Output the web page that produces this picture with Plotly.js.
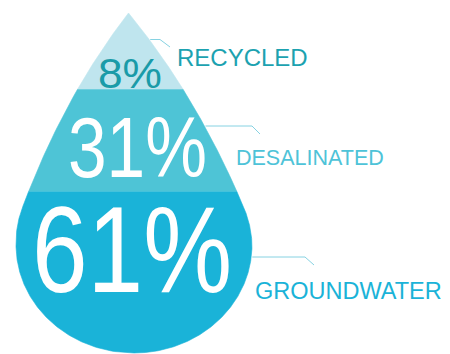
<!DOCTYPE html>
<html><head><meta charset="utf-8">
<script src="https://cdn.plot.ly/plotly-3.0.1.min.js"></script>
<style>html,body{margin:0;padding:0;background:#fff}#chart{width:450px;height:354px}</style>
</head><body><div id="chart"></div>
<script>
// ---- data ----
const categories = ['RECYCLED', 'DESALINATED', 'GROUNDWATER'];
const values = [8, 31, 61];

// ---- styles ----
const bandColors = ['#BFE5EE', '#4EC4D6', '#1AB3D8'];
const valueColors = ['#1A9BA8', '#FFFFFF', '#FFFFFF'];
const labelColors = ['#1CA2B0', '#4EC3D8', '#1AB3D8'];
const leaderColor = '#86D2E2';

// ---- drop geometry (layout, in plot pixels) ----
const G = {tipX: 128.5, tipY: 13, cx: 134, cy: 245, rx: 118, ry: 108, phi: 70 * Math.PI / 180, tipSlope: 0.8};
const valueText = {x: [130, 137.5, 132], y: [72.5, 146, 249], size: [43, 86, 123], width: [64, 139, 200]};
const labelText = {x: [175, 234, 253], y: [57, 158, 291], size: [24, 21.5, 23.5]};
const leaders = [
  {y: 39.5, xh: 160, x2: 170, y2: 47},
  {y: 126, xh: 252, x2: 260, y2: 134},
  {y: 257, xh: 305, x2: 314, y2: 265}
];
const FONT = 'Liberation Sans, Arial, Helvetica, sans-serif';

function buildOutline() {
  const {tipY, cy, rx, ry, phi, tipSlope} = G;
  const P2 = [rx * Math.sin(phi), cy - ry * Math.cos(phi)];
  const s2 = (rx * Math.cos(phi)) / (ry * Math.sin(phi));
  const c1y = (P2[0] - s2 * P2[1] + tipSlope * tipY) / (tipSlope - s2);
  const P1 = [tipSlope * (c1y - tipY), c1y];
  const P0 = [0, tipY];
  const pts = [];
  for (let i = 0; i <= 300; i++) {
    const t = i / 300, a = (1 - t) * (1 - t), b = 2 * t * (1 - t), c = t * t;
    pts.push([a * P0[1] + b * P1[1] + c * P2[1], a * P0[0] + b * P1[0] + c * P2[0]]);
  }
  for (let i = 1; i <= 300; i++) {
    const th = phi + (Math.PI - phi) * i / 300;
    pts.push([cy - ry * Math.cos(th), rx * Math.sin(th)]);
  }
  return pts;
}
const OUT = buildOutline();
function hw(y) {
  if (y <= OUT[0][0]) return 0;
  for (let i = 1; i < OUT.length; i++) {
    if (OUT[i][0] >= y) {
      const [y0, x0] = OUT[i - 1], [y1, x1] = OUT[i];
      return y1 === y0 ? x1 : x0 + (x1 - x0) * (y - y0) / (y1 - y0);
    }
  }
  return 0;
}
function axisX(y) {
  const f = Math.min(1, Math.max(0, (y - G.tipY) / (G.cy - G.tipY)));
  return G.tipX + (G.cx - G.tipX) * f;
}
const yBottom = G.cy + G.ry;

// band boundaries: each band's area is proportional to its value
const step = 0.1;
const cum = [[G.tipY, 0]];
for (let y = G.tipY + step; y <= yBottom + 1e-9; y += step) {
  const prev = cum[cum.length - 1];
  cum.push([y, prev[1] + (hw(y - step) + hw(y)) * step]);
}
const totalArea = cum[cum.length - 1][1];
const totalVal = values.reduce((a, b) => a + b, 0);
const bounds = [G.tipY];
let acc = 0;
for (let k = 0; k < values.length - 1; k++) {
  acc += values[k];
  const target = totalArea * acc / totalVal;
  const hit = cum.find(c => c[1] >= target);
  bounds.push(hit[0]);
}
bounds.push(yBottom);

const traces = categories.map((cat, k) => {
  const y0 = bounds[k], y1 = bounds[k + 1];
  const ys = [];
  for (let y = y0; y < y1; y += 0.5) ys.push(y);
  ys.push(y1);
  const xs = [], yy = [];
  ys.forEach(y => { xs.push(axisX(y) + hw(y)); yy.push(y); });
  ys.slice().reverse().forEach(y => { xs.push(axisX(y) - hw(y)); yy.push(y); });
  return {x: xs, y: yy, type: 'scatter', mode: 'lines', fill: 'toself',
    fillcolor: bandColors[k], line: {color: bandColors[k], width: 0.6},
    hoverinfo: 'skip', name: cat, showlegend: false};
});

leaders.forEach(L => {
  traces.push({x: [axisX(L.y) + hw(L.y) + 1, L.xh, L.x2], y: [L.y, L.y, L.y2], type: 'scatter', mode: 'lines',
    line: {color: leaderColor, width: 1}, hoverinfo: 'skip', showlegend: false});
});

const annotations = [];
categories.forEach((cat, k) => {
  annotations.push({x: valueText.x[k], y: valueText.y[k], xref: 'x', yref: 'y', text: values[k] + '%',
    showarrow: false, xanchor: 'center', yanchor: 'middle',
    width: valueText.width[k] + 4, height: Math.round(valueText.size[k] * 0.82),
    font: {family: FONT, size: valueText.size[k], color: valueColors[k]}});
  annotations.push({x: labelText.x[k], y: labelText.y[k], xref: 'x', yref: 'y', text: cat,
    showarrow: false, xanchor: 'left', yanchor: 'middle',
    font: {family: FONT, size: labelText.size[k], color: labelColors[k]}});
});

const layout = {
  width: 450, height: 354, margin: {l: 0, r: 0, t: 0, b: 0},
  paper_bgcolor: '#FFFFFF', plot_bgcolor: '#FFFFFF', showlegend: false,
  xaxis: {range: [0, 450], visible: false, fixedrange: true},
  yaxis: {range: [354, 0], visible: false, fixedrange: true},
  annotations: annotations
};

function squeeze(gd) {
  // the big percentages are set in a condensed face: fit the glyphs to their width
  gd.querySelectorAll('.annotation').forEach(g => {
    const idx = +g.getAttribute('data-index');
    if (idx % 2 !== 0) return;
    const k = idx / 2;
    const t = g.querySelector('text.annotation-text');
    if (!t) return;
    t.setAttribute('textLength', valueText.width[k]);
    t.setAttribute('lengthAdjust', 'spacingAndGlyphs');
  });
}
Plotly.newPlot('chart', traces, layout, {displayModeBar: false, staticPlot: true}).then(gd => {
  squeeze(gd);
  gd.on('plotly_afterplot', () => squeeze(gd));
});
</script></body></html>
